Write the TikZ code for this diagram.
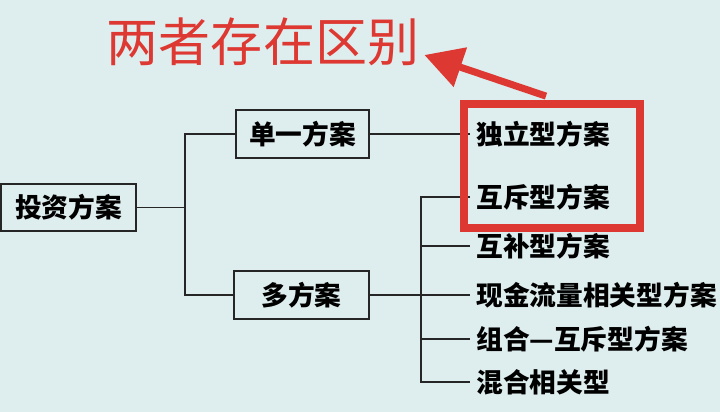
\documentclass[tikz,border=0pt]{standalone}
\usepackage{fontspec}
\newfontfamily\cjk{Noto Sans CJK SC}
\usetikzlibrary{positioning}
\usetikzlibrary{arrows.meta,calc}
\definecolor{paper}{RGB}{222,237,238}
\definecolor{markred}{RGB}{221,56,50}
\tikzset{
	link/.style = {line width=1.3pt, black!85},
	box/.style = {draw=black!85, line width=1.5pt, minimum height=1.18cm,
	 inner sep=0pt, text height=0.6cm, text depth=0.08cm,
	 font=\cjk\bfseries\fontsize{19}{19}\selectfont},
	leaf/.style = {anchor=west, inner xsep=0.15cm, inner ysep=0pt,
	 text height=0.6cm, text depth=0.08cm,
	 font=\cjk\bfseries\fontsize{19}{19}\selectfont},
	hlbox/.style = {draw=markred, line width=5.5pt, inner sep=0pt},
	note/.style = {text=markred, inner sep=0pt, font=\cjk\fontsize{37}{37}\selectfont},
}

\begin{document}
\begin{tikzpicture}[x=0.025cm,y=-0.025cm]
	\fill[paper] (0,0) rectangle (720,412);
	\useasboundingbox (0,0) rectangle (720,412);
               \node at(68.5,207.5) (plan) [box, minimum width=3.375cm] {投资方案};
               \node at(302.5,134) (single) [box, minimum width=3.325cm] {单一方案};
               \node at(301.5,295) (multi) [box, minimum width=3.375cm] {多方案};
               \node at(470,134) (indep) [leaf] {独立型方案};
               \node at(470,197) (mutex) [leaf] {互斥型方案};
               \node at(470,246) (comp) [leaf] {互补型方案};
               \node at(470,295) (cash) [leaf] {现金流量相关型方案};
               \node at(470,339) (combo) [leaf] {组合—互斥型方案};
               \node at(470,382) (mixed) [leaf] {混合相关型};
               \coordinate (j1) at (185,207.5);
               \coordinate (j2) at (421,295);
               \draw[link] (plan.east) -- (j1);
               \draw[link] (single.west) -| (j1) |- (multi.west);
               \draw[link] (single.east) -- (indep.west);
               \draw[link] (multi.east) -- (cash.west);
               \draw[link] (mutex.west) -| (j2) |- (mixed.west);
               \draw[link] (comp.west -| j2) -- (comp.west);
               \draw[link] (combo.west -| j2) -- (combo.west);
               % highlight and remark
               \node at(552,166) (pair) [hlbox, minimum width=4.4cm, minimum height=3.1cm] {};
               \node at(263,42) (remark) [note] {两者存在区别};
               \coordinate (tail) at ($(pair.north)+(-6,-4)$);
               \coordinate (tip) at ($(remark.east)+(5,13)$);
               \draw[markred, line width=5pt, -{Triangle[length=0.95cm,width=1cm]}] (tail) -- (tip);
\end{tikzpicture}
\end{document}
